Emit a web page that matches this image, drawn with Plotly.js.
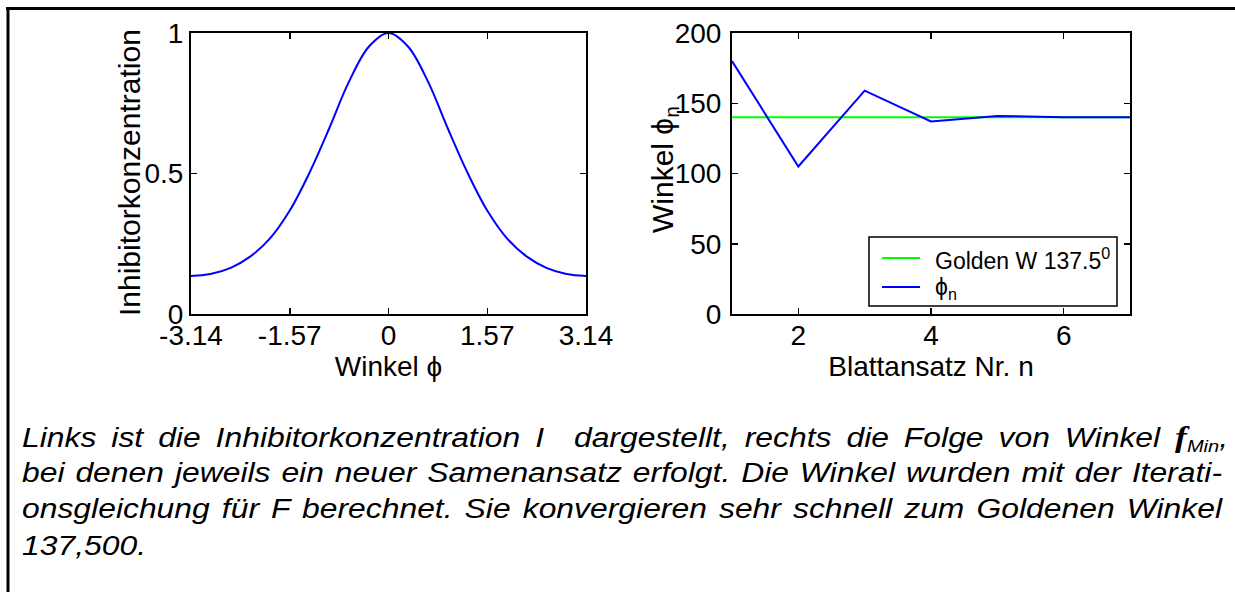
<!DOCTYPE html>
<html>
<head>
<meta charset="utf-8">
<script src="https://cdn.plot.ly/plotly-3.0.1.min.js"></script>
<style>
  html, body { margin: 0; padding: 0; background: #fff; }
  #wrap { position: relative; width: 1235px; height: 592px; overflow: hidden; }
  #chart { position: absolute; left: 0; top: 0; width: 1235px; height: 592px; }
  .cap { position: absolute; left: 22px; height: 37px; line-height: 37px;
         font-family: 'Liberation Sans', Arial, sans-serif; font-style: italic; font-size: 27px;
         color: #000; white-space: nowrap; transform-origin: 0 0; }
  .fsym { font-family: 'Liberation Serif', serif; font-weight: bold; font-style: italic; font-size: 30px; }
  .sub { font-size: 17px; position: relative; top: 5px; }
</style>
</head>
<body>
<div id="wrap">
  <div id="chart"></div>
  <div class="cap" data-just="1" style="top:418px"><span class="inner">Links ist die Inhibitorkonzentration I&nbsp; dargestellt, rechts die Folge von Winkel <span class="fsym">f</span><span class="sub">Min</span>,</span></div>
  <div class="cap" data-just="1" style="top:455px"><span class="inner">bei denen jeweils ein neuer Samenansatz erfolgt. Die Winkel wurden mit der Iterati-</span></div>
  <div class="cap" data-just="1" style="top:491px"><span class="inner">onsgleichung für F berechnet. Sie konvergieren sehr schnell zum Goldenen Winkel</span></div>
  <div class="cap" data-just="0" style="top:528px"><span class="inner">137,500.</span></div>
</div>
<script>
// Left panel: inhibitor concentration vs angle
var phi = [-3.14, -2.83, -2.51, -2.20, -1.88, -1.57, -1.26, -0.94, -0.63, -0.31, 0,
            0.31, 0.63, 0.94, 1.26, 1.57, 1.88, 2.20, 2.51, 2.83, 3.14];
var inhib = [0.135, 0.142, 0.164, 0.204, 0.270, 0.368, 0.501, 0.662, 0.826, 0.952, 1.0,
             0.952, 0.826, 0.662, 0.501, 0.368, 0.270, 0.204, 0.164, 0.142, 0.135];
var phiTicks = [-3.14, -1.57, 0, 1.57, 3.14];
var phiTickText = ['-3.14', '-1.57', '0', '1.57', '3.14'];

// Right panel: angle sequence
var nLeaf = [1, 2, 3, 4, 5, 6, 7];
var golden = [140, 140, 140, 140, 140, 140, 140];
var phiN = [180, 105, 159, 137, 141, 140, 140];
var goldenName = 'Golden W 137.5<sup>0</sup>';
var phiNName = 'ϕ<sub>n</sub>';
var GREEN = '#00ff00', BLUE = '#0000ff';

var FONT = 'Liberation Sans, Arial, sans-serif';
var W = 1235, H = 592;
function px(x) { return x / W; }
function py(y) { return 1 - y / H; }

var traces = [
  { x: phi, y: inhib, type: 'scatter', mode: 'lines', line: { color: BLUE, width: 2, shape: 'spline' },
    xaxis: 'x', yaxis: 'y', showlegend: false },
  { x: nLeaf, y: golden, type: 'scatter', mode: 'lines', name: goldenName,
    line: { color: GREEN, width: 2 }, xaxis: 'x2', yaxis: 'y2', showlegend: false },
  { x: nLeaf, y: phiN, type: 'scatter', mode: 'lines', name: phiNName,
    line: { color: BLUE, width: 2 }, xaxis: 'x2', yaxis: 'y2', showlegend: false }
];

var axCommon = {
  showline: true, linecolor: '#000', linewidth: 2, mirror: 'ticks',
  ticks: 'inside', ticklen: 6, tickwidth: 1.5, tickcolor: '#000',
  showgrid: false, zeroline: false, automargin: false,
  tickfont: { family: FONT, size: 28, color: '#000' }
};
function ax(extra) { return Object.assign({}, axCommon, extra); }

// Legend box (drawn manually to match the original's compact box)
var leg = { x0: 869, x1: 1117, y0: 237, y1: 306, lineX0: 882, lineX1: 920, textX: 933, rows: [258, 287] };
var legendItems = [
  { name: goldenName, color: GREEN },
  { name: phiNName, color: BLUE }
];

var shapes = [
  { type: 'line', xref: 'paper', yref: 'paper', x0: px(6), x1: 1, y0: py(8.5), y1: py(8.5),
    line: { color: '#000', width: 3 } },
  { type: 'line', xref: 'paper', yref: 'paper', x0: px(8), x1: px(8), y0: py(7), y1: 0,
    line: { color: '#000', width: 3 } },
  { type: 'rect', xref: 'paper', yref: 'paper', x0: px(leg.x0), x1: px(leg.x1), y0: py(leg.y1), y1: py(leg.y0),
    line: { color: '#000', width: 1.5 }, fillcolor: '#fff', layer: 'above' }
];
var annotations = [
  { text: 'Inhibitorkonzentration', xref: 'paper', yref: 'paper', x: px(129), y: py(173),
    xanchor: 'center', yanchor: 'middle', textangle: -90, showarrow: false,
    font: { family: FONT, size: 30, color: '#000' } },
  { text: 'Winkel ϕ<sub>n</sub>', xref: 'paper', yref: 'paper', x: px(664), y: py(170),
    xanchor: 'center', yanchor: 'middle', textangle: -90, showarrow: false,
    font: { family: FONT, size: 30, color: '#000' } }
];
legendItems.forEach(function (it, i) {
  var yy = leg.rows[i];
  shapes.push({ type: 'line', xref: 'paper', yref: 'paper', x0: px(leg.lineX0), x1: px(leg.lineX1),
    y0: py(yy), y1: py(yy), line: { color: it.color, width: 2 }, layer: 'above' });
  annotations.push({ text: it.name, xref: 'paper', yref: 'paper', x: px(leg.textX), y: py(yy + 1),
    xanchor: 'left', yanchor: 'middle', showarrow: false,
    font: { family: FONT, size: 23, color: '#000' } });
});

var layout = {
  width: W, height: H,
  margin: { l: 0, r: 0, t: 0, b: 0, pad: 0 },
  paper_bgcolor: '#fff', plot_bgcolor: '#fff',
  font: { family: FONT, color: '#000' },
  showlegend: false,
  xaxis: ax({ domain: [px(191), px(586)], range: [-3.14, 3.14], anchor: 'y',
              tickmode: 'array', tickvals: phiTicks, ticktext: phiTickText, ticklabelstandoff: -5,
              title: { text: 'Winkel ϕ', font: { family: FONT, size: 28 }, standoff: 2 } }),
  yaxis: ax({ domain: [py(314), py(33)], range: [0, 1], anchor: 'x',
              tickmode: 'array', tickvals: [0, 0.5, 1], ticktext: ['0', '0.5', '1'] }),
  xaxis2: ax({ domain: [px(732), px(1130)], range: [1, 7], anchor: 'y2',
               tickmode: 'array', tickvals: [2, 4, 6], ticklabelstandoff: -5,
               title: { text: 'Blattansatz Nr. n', font: { family: FONT, size: 28 }, standoff: 2 } }),
  yaxis2: ax({ domain: [py(314), py(33)], range: [0, 200], anchor: 'x2',
               tickmode: 'array', tickvals: [0, 50, 100, 150, 200], ticklabelstandoff: 3 }),
  shapes: shapes,
  annotations: annotations
};

Plotly.newPlot('chart', traces, layout, { displayModeBar: false, staticPlot: true });

// Caption: stretch glyphs slightly and justify lines to the 1200px text block
(function () {
  var BLOCK = 1200, STRETCH = 1.18;
  var caps = document.querySelectorAll('.cap');
  caps.forEach(function (d) {
    var inner = d.querySelector('.inner');
    inner.style.display = 'inline-block';
    var w = inner.getBoundingClientRect().width;
    var s = STRETCH;
    if (d.getAttribute('data-just') === '1') {
      if (w * s > BLOCK) s = BLOCK / w;
      var avail = BLOCK / s;
      var spaces = (inner.textContent.match(/ /g) || []).length;
      if (spaces > 0 && avail > w) inner.style.wordSpacing = ((avail - w) / spaces) + 'px';
    }
    d.style.transform = 'scaleX(' + s + ')';
  });
})();
</script>
</body>
</html>
